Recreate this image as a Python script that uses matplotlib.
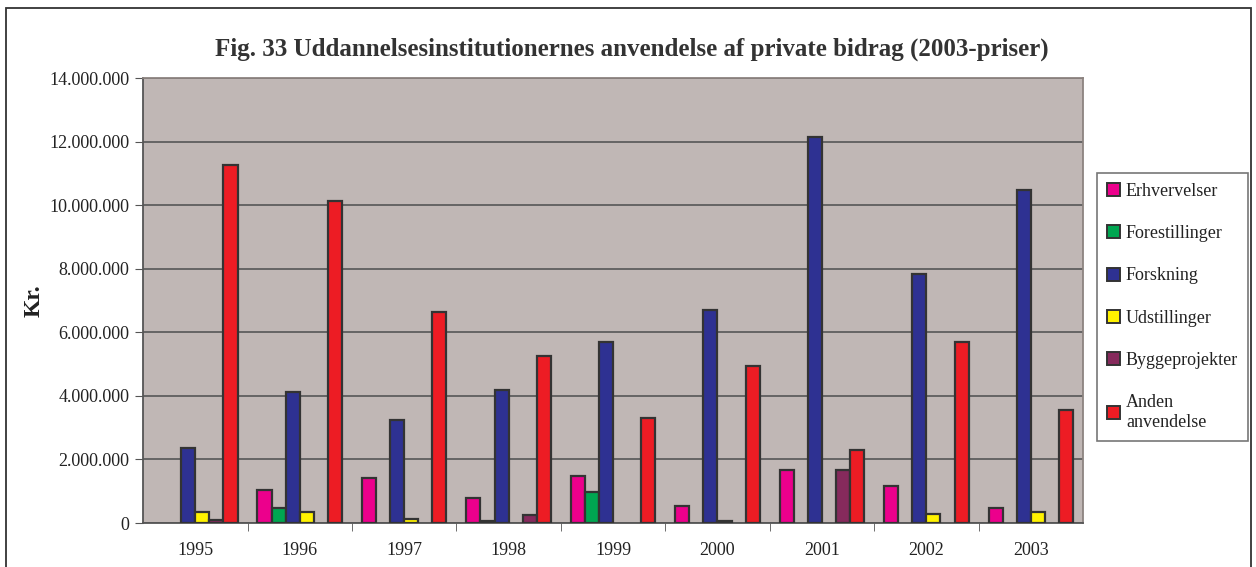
import numpy as np
import matplotlib.pyplot as plt
from matplotlib.patches import Rectangle
from matplotlib.ticker import FuncFormatter

years = ["1995", "1996", "1997", "1998", "1999", "2000", "2001", "2002", "2003"]
series = ["Erhvervelser", "Forestillinger", "Forskning", "Udstillinger",
          "Byggeprojekter", "Anden\nanvendelse"]
colors = ["#EC008C", "#00A651", "#2E3192", "#FFF200", "#862A5C", "#ED1C24"]

# kr., 2003-priser
erhvervelser = [0, 1050000, 1430000, 800000, 1490000, 540000, 1680000, 1170000, 480000]
forestillinger = [0, 480000, 0, 50000, 980000, 0, 0, 0, 0]
forskning = [2370000, 4130000, 3250000, 4190000, 5700000, 6700000, 12140000, 7830000, 10480000]
udstillinger = [360000, 360000, 120000, 0, 0, 50000, 0, 290000, 360000]
byggeprojekter = [100000, 0, 0, 240000, 0, 0, 1680000, 0, 0]
anden = [11250000, 10120000, 6630000, 5260000, 3310000, 4950000, 2310000, 5690000, 3560000]

data = [erhvervelser, forestillinger, forskning, udstillinger, byggeprojekter, anden]

plt.rcParams["font.family"] = ["Liberation Serif", "DejaVu Serif"]

fig = plt.figure(figsize=(12.56, 5.67), dpi=100)
ax = fig.add_axes([0.1139, 0.0776, 0.7484, 0.7848])
ax.set_facecolor("#C0B7B5")

x = np.arange(len(years))
w = 0.135
for i, (vals, name, col) in enumerate(zip(data, series, colors)):
    vals = np.array(vals, dtype=float)
    pos = x + (i - 2.5) * w
    nz = vals > 0
    ax.bar(pos[nz], vals[nz], width=w, color=col, edgecolor="#333333",
           linewidth=1.6, zorder=3)
    # proxy for the legend so every series shows up
    ax.bar([np.nan], [np.nan], width=w, color=col, edgecolor="#333333",
           linewidth=1.4, label=name)

ax.set_xlim(-0.5, len(years) - 0.5)
ax.set_ylim(0, 14000000)
ax.set_yticks(np.arange(0, 14000001, 2000000))
ax.yaxis.set_major_formatter(FuncFormatter(lambda v, p: f"{int(v):,}".replace(",", ".")))
ax.yaxis.grid(True, color="#5E5E5E", linewidth=1.3, zorder=1)
ax.set_axisbelow(True)

ax.set_xticks(x)
ax.set_xticklabels(years)
ax.set_xticks(np.arange(0.5, len(years) - 0.5, 1), minor=True)
ax.tick_params(axis="x", which="major", length=0, pad=14, labelsize=13, colors="#222222")
ax.tick_params(axis="x", which="minor", length=6, direction="out", color="#555555")
ax.tick_params(axis="y", length=6, direction="out", labelsize=13, colors="#555555",
               labelcolor="#222222", pad=4)

for side in ["left", "bottom"]:
    ax.spines[side].set_color("#555555")
    ax.spines[side].set_linewidth(1.3)
for side in ["top", "right"]:
    ax.spines[side].set_color("#8C8380")
    ax.spines[side].set_linewidth(1.3)

ax.set_ylabel("Kr.", fontsize=17, fontweight="bold", labelpad=3, color="#222222")
fig.text(0.503, 0.913, "Fig. 33 Uddannelsesinstitutionernes anvendelse af private bidrag (2003-priser)",
         ha="center", va="center", fontsize=18, fontweight="bold", color="#333333")

leg = fig.legend(loc="upper left", bbox_to_anchor=(0.8734, 0.695), fontsize=13,
                 frameon=True, fancybox=False, edgecolor="#555555",
                 handlelength=0.75, handleheight=0.75, handletextpad=0.3,
                 labelspacing=1.4, borderpad=0.55, borderaxespad=0)
leg.get_frame().set_linewidth(1.2)
for t in leg.get_texts():
    t.set_color("#222222")

# frame around the whole chart
fig.patches.append(Rectangle((0.0048, -0.05), 0.9913, 1.036, transform=fig.transFigure,
                             fill=False, edgecolor="#333333", linewidth=1.3))

fig.savefig("out.png", dpi=100)
